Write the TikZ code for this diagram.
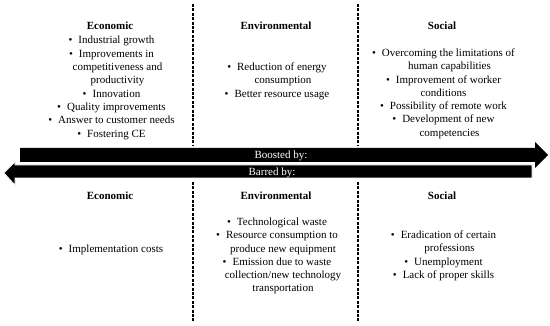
\documentclass[tikz,border=0pt]{standalone}
\usepackage{fontspec}
\setmainfont{Liberation Serif}
\newcommand\bitem{\textbullet\hspace{6pt}}
\newcommand\contl{\hspace*{12pt}}
\begin{document}
\begin{tikzpicture}[x=1pt,y=-1pt,
  txt/.style={font=\fontsize{11}{13.3}\selectfont, align=center, inner sep=0pt, anchor=base},
  hdr/.style={font=\fontsize{11}{13.3}\selectfont\bfseries, inner sep=0pt, anchor=base},
  divider/.style={line width=1.1pt, dash pattern=on 3pt off 1.4pt},
  band/.style={fill=black, draw=white, line width=0.6pt},
  bandtext/.style={text=white, font=\fontsize{11}{13}\selectfont, inner sep=0pt, anchor=base}]
\useasboundingbox (0,0) rectangle (550,326);

% dividers
\draw[divider] (193,4) -- (193,146);
\draw[divider] (358,4) -- (358,146);
\draw[divider] (193,182) -- (193,322);
\draw[divider] (358,182) -- (358,322);

% arrows
\fill[black] (20,148) -- (535,148) -- (535,142) -- (548,155) -- (535,168) -- (535,162) -- (20,162) -- cycle;
\filldraw[band] (532,165) -- (15,165) -- (15,162) -- (4,173) -- (15,185) -- (15,178) -- (532,178) -- cycle;
\node[bandtext] (boost) at (281,159) {Boosted by:};
\node[bandtext] (barred) at (272,175.5) {Barred by:};

% top headers
\node[hdr] (h1) at (110,30) {Economic};
\node[hdr] (h2) at (276,30) {Environmental};
\node[hdr] (h3) at (442,30) {Social};

% top lists (anchor base = baseline of last line)
\node[txt] (e1) at (111.5,137.1) {\bitem Industrial growth\\
\bitem Improvements in\\
\contl competitiveness and\\
\contl productivity\\
\bitem Innovation\\
\bitem Quality improvements\\
\bitem Answer to customer needs\\
\bitem Fostering CE};
\node[txt] (v1) at (277,97.1) {\bitem Reduction of energy\\
\contl consumption\\
\bitem Better resource usage};
\node[txt] (s1) at (443.5,136.3) {\bitem Overcoming the limitations of\\
\contl human capabilities\\
\bitem Improvement of worker\\
conditions\\
\bitem Possibility of remote work\\
\bitem Development of new\\
\contl competencies};

% bottom headers
\node[hdr] (h4) at (110,200) {Economic};
\node[hdr] (h5) at (276,200) {Environmental};
\node[hdr] (h6) at (442,200) {Social};

% bottom lists
\node[txt] (e2) at (111,252.5) {\bitem Implementation costs};
\node[txt] (v2) at (277,292) {\bitem Technological waste\\
\bitem Resource consumption to\\
\contl produce new equipment\\
\bitem Emission due to waste\\
\contl collection/new technology\\
\contl transportation};
\node[txt] (s2) at (443.5,278.4) {\bitem Eradication of certain\\
\contl professions\\
\bitem Unemployment\\
\bitem Lack of proper skills};
\end{tikzpicture}
\end{document}
